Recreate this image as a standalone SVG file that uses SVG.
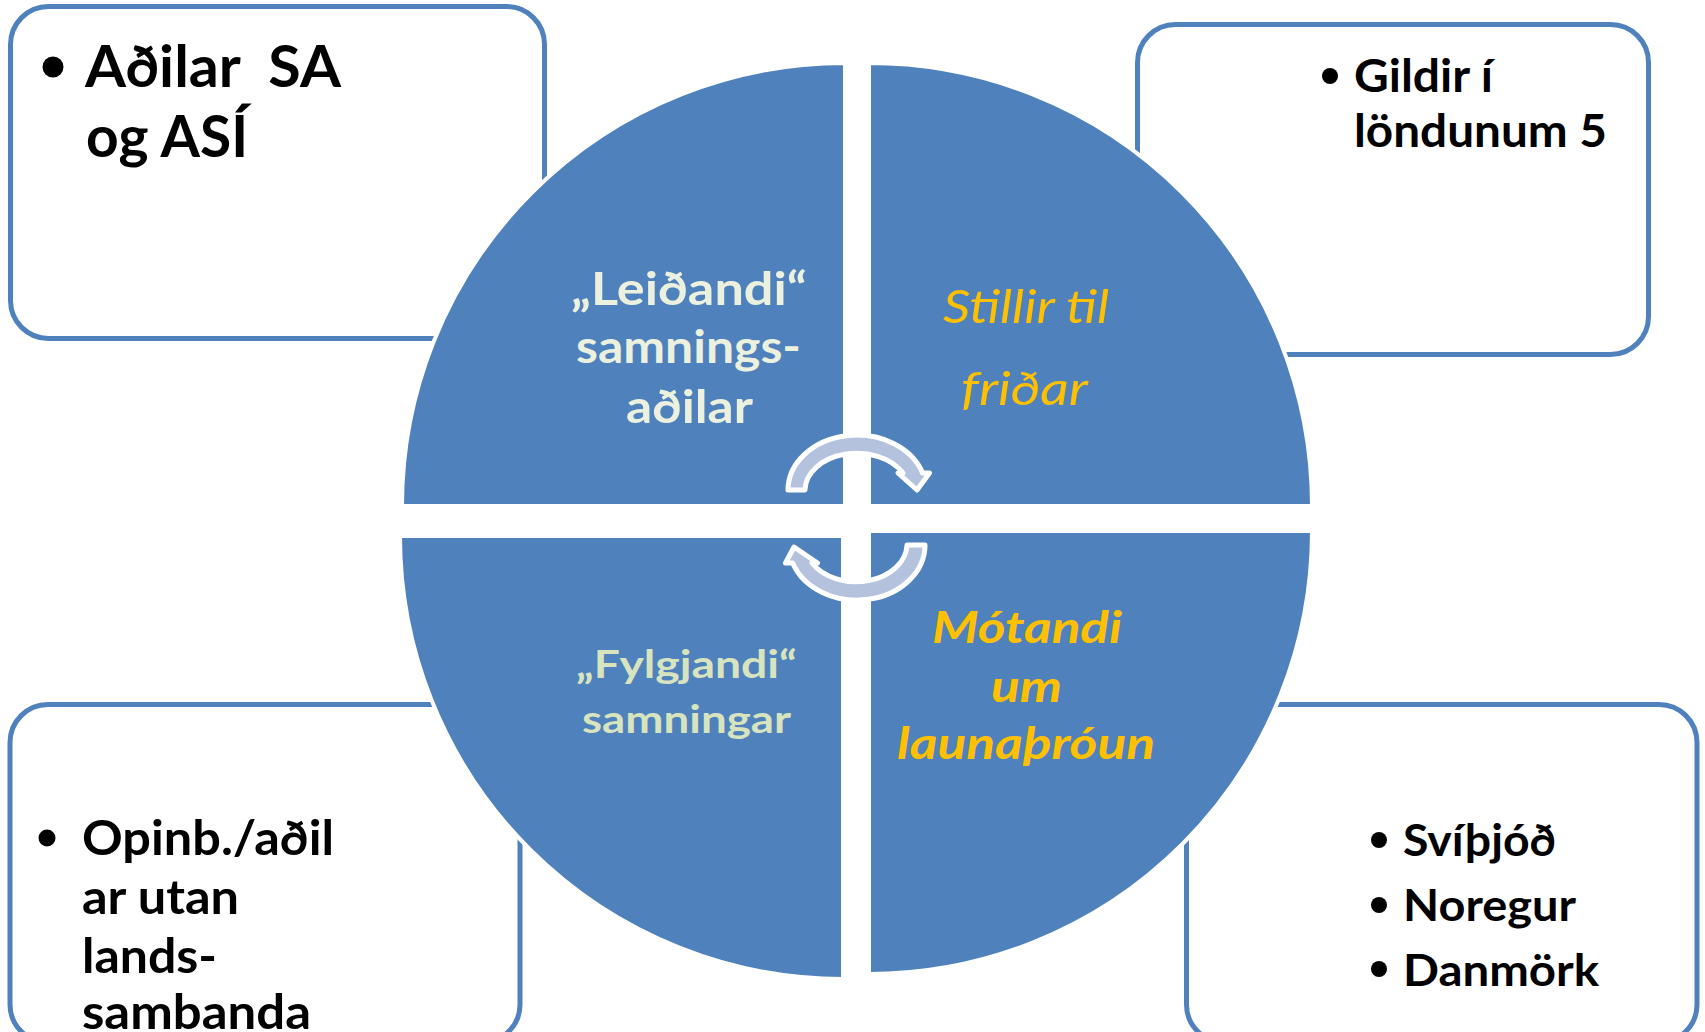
<svg xmlns="http://www.w3.org/2000/svg" width="1705" height="1032" viewBox="0 0 1705 1032">
<style>
.box{fill:#FFFFFF;stroke:#4F81BD;stroke-width:5}
.quad{fill:#4F81BD;stroke:#FFFFFF;stroke-width:4}
.arrow{fill:#B4C2DE;stroke:#FFFFFF;stroke-width:5;stroke-linejoin:round}
.bt{font-family:Lato,"Open Sans","Liberation Sans",sans-serif;font-weight:700;fill:#000000}
.bul{fill:#000000}
.ql{font-family:Lato,"Open Sans","Liberation Sans",sans-serif;font-weight:700;font-size:45px;fill:#EBF1DE}
.qbl{font-family:Lato,"Open Sans","Liberation Sans",sans-serif;font-weight:700;font-size:39px;fill:#D7E4BD}
.qi{font-family:Lato,"Open Sans","Liberation Sans",sans-serif;font-style:italic;font-weight:400;font-size:46px;fill:#FFC000}
.qbi{font-family:Lato,"Open Sans","Liberation Sans",sans-serif;font-style:italic;font-weight:700;font-size:43px;fill:#FFC000}
</style>
<rect width="1705" height="1032" fill="#FFFFFF"/>
<g id="box-adilar">
<rect class="box" x="10.5" y="6.5" width="534" height="332" rx="38"/>
<circle class="bul" cx="53" cy="67" r="10.5"/>
<text class="bt" font-size="58" x="85" y="87" textLength="256" lengthAdjust="spacingAndGlyphs">Aðilar&#160; SA</text>
<text class="bt" font-size="58" x="86" y="157" textLength="162" lengthAdjust="spacingAndGlyphs">og ASÍ</text>
</g>
<g id="box-gildir">
<rect class="box" x="1137.5" y="24.5" width="511" height="330" rx="38"/>
<circle class="bul" cx="1330" cy="76" r="8"/>
<text class="bt" font-size="45" x="1354" y="92" textLength="139" lengthAdjust="spacingAndGlyphs">Gildir í</text>
<text class="bt" font-size="45" x="1354" y="147" textLength="253" lengthAdjust="spacingAndGlyphs">löndunum 5</text>
</g>
<g id="box-opinb">
<rect class="box" x="10" y="704.5" width="510" height="338" rx="38"/>
<circle class="bul" cx="47" cy="838" r="8.5"/>
<text class="bt" font-size="47" x="82" y="855" textLength="252" lengthAdjust="spacingAndGlyphs">Opinb./aðil</text>
<text class="bt" font-size="47" x="82" y="914" textLength="157" lengthAdjust="spacingAndGlyphs">ar utan</text>
<text class="bt" font-size="47" x="82" y="973" textLength="135" lengthAdjust="spacingAndGlyphs">lands-</text>
<text class="bt" font-size="47" x="82" y="1029" textLength="229" lengthAdjust="spacingAndGlyphs">sambanda</text>
</g>
<g id="box-lond">
<rect class="box" x="1186.5" y="704.5" width="510.5" height="338" rx="38"/>
<circle class="bul" cx="1379" cy="840" r="8"/>
<circle class="bul" cx="1379" cy="905" r="8"/>
<circle class="bul" cx="1379" cy="969" r="8"/>
<text class="bt" font-size="43" x="1403" y="856" textLength="153" lengthAdjust="spacingAndGlyphs">Svíþjóð</text>
<text class="bt" font-size="43" x="1403" y="921" textLength="173" lengthAdjust="spacingAndGlyphs">Noregur</text>
<text class="bt" font-size="43" x="1403" y="986" textLength="196" lengthAdjust="spacingAndGlyphs">Danmörk</text>
</g>
<g id="quad-leidandi">
<path class="quad" d="M 845,506 L 402,506 A 443 443 0 0 1 845,63 Z"/>
<text class="ql" x="571" y="305" textLength="236" lengthAdjust="spacingAndGlyphs">„Leiðandi“</text>
<text class="ql" x="576" y="363" textLength="225" lengthAdjust="spacingAndGlyphs">samnings-</text>
<text class="ql" x="626" y="423" textLength="127" lengthAdjust="spacingAndGlyphs">aðilar</text>
</g>
<g id="quad-stillir">
<path class="quad" d="M 869,506 L 869,63 A 443 443 0 0 1 1312,506 Z"/>
<text class="qi" x="943" y="323" textLength="166" lengthAdjust="spacingAndGlyphs">Stillir til</text>
<text class="qi" x="961" y="405" textLength="127" lengthAdjust="spacingAndGlyphs">friðar</text>
</g>
<g id="quad-fylgjandi">
<path class="quad" d="M 843,536 L 843,979 A 443 443 0 0 1 400,536 Z"/>
<text class="qbl" x="576" y="678" textLength="221" lengthAdjust="spacingAndGlyphs">„Fylgjandi“</text>
<text class="qbl" x="582" y="733" textLength="209" lengthAdjust="spacingAndGlyphs">samningar</text>
</g>
<g id="quad-motandi">
<path class="quad" d="M 869,531 L 1312,531 A 443 443 0 0 1 869,974 Z"/>
<text class="qbi" x="932" y="643" textLength="190" lengthAdjust="spacingAndGlyphs">Mótandi</text>
<text class="qbi" x="991" y="702" textLength="71" lengthAdjust="spacingAndGlyphs">um</text>
<text class="qbi" x="897" y="759" textLength="258" lengthAdjust="spacingAndGlyphs">launaþróun</text>
</g>
<g id="connectors">
<path class="arrow" d="M 788,490 A 69 55 0 0 1 922.6,473 L 929.5,473 L 917,490 L 898,473 L 903,473 A 52 37 0 0 0 805,490 Z"/>
<path class="arrow" d="M 925,545 A 68 55 0 0 1 792.7,563 L 785.5,563 L 794,547 L 817.5,563 L 812,563 A 51 38 0 0 0 907,545 Z"/>
</g>
</svg>
